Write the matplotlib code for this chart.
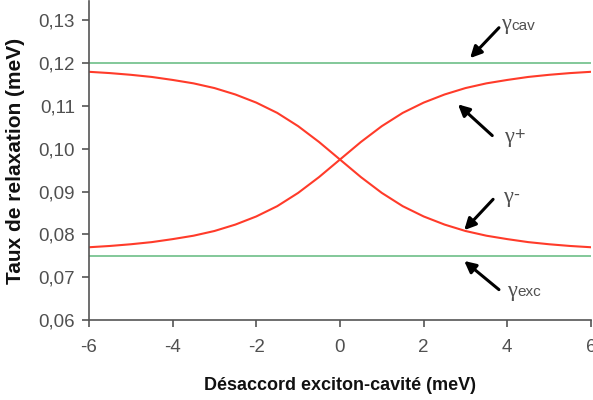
"""
plot.py
Taux de relaxation des polaritons en fonction du désaccord exciton-cavité
"""

import matplotlib
matplotlib.use("Agg")
from matplotlib import pyplot as plt
from matplotlib.ticker import FuncFormatter

# Data
detuning = [-6, -5.5, -5, -4.5, -4, -3.5, -3, -2.5, -2, -1.5, -1, -0.5,
            0, 0.5, 1, 1.5, 2, 2.5, 3, 3.5, 4, 4.5, 5, 5.5, 6]
gamma_plus = [0.0770, 0.0773, 0.0777, 0.0782, 0.0789, 0.0797, 0.0808, 0.0823,
              0.0842, 0.0866, 0.0897, 0.0934, 0.0975, 0.1016, 0.1053, 0.1084,
              0.1108, 0.1127, 0.1142, 0.1153, 0.1161, 0.1168, 0.1173, 0.1177,
              0.1180]
gamma_minus = [0.1180, 0.1177, 0.1173, 0.1168, 0.1161, 0.1153, 0.1142, 0.1127,
               0.1108, 0.1084, 0.1053, 0.1016, 0.0975, 0.0934, 0.0897, 0.0866,
               0.0842, 0.0823, 0.0808, 0.0797, 0.0789, 0.0782, 0.0777, 0.0773,
               0.0770]
gamma_cav = 0.120
gamma_exc = 0.075
x_ticks = [-6, -4, -2, 0, 2, 4, 6]
y_ticks = [0.06, 0.07, 0.08, 0.09, 0.10, 0.11, 0.12, 0.13]

# Style
RED = "#ff3b2a"
GREEN = "#6dbf88"
AXIS_GRAY = "#555555"
TICK_GRAY = "#505050"
SANS = "Liberation Sans"
SERIF = "Liberation Serif"

fig = plt.figure(figsize=(5.93, 4.0), dpi=100)
ax = fig.add_axes([0.150, 0.200, 0.8466, 0.797])

ax.axhline(gamma_cav, color=GREEN, linewidth=1.2)
ax.axhline(gamma_exc, color=GREEN, linewidth=1.2)
ax.plot(detuning, gamma_plus, color=RED, linewidth=1.5)
ax.plot(detuning, gamma_minus, color=RED, linewidth=1.5)

ax.set_xlim(-6, 6)
ax.set_ylim(0.06, 0.1345)
ax.set_xticks(x_ticks)
ax.set_yticks(y_ticks)
ax.xaxis.set_major_formatter(FuncFormatter(lambda v, p: "%d" % v))
ax.yaxis.set_major_formatter(FuncFormatter(lambda v, p: ("%.2f" % v).replace(".", ",")))

for side in ["top", "right"]:
    ax.spines[side].set_visible(False)
for side in ["left", "bottom"]:
    ax.spines[side].set_color(AXIS_GRAY)
    ax.spines[side].set_linewidth(1.2)
ax.tick_params(direction="out", length=5, width=1.2, color=AXIS_GRAY,
               labelcolor=TICK_GRAY, labelsize=13.5)
ax.tick_params(axis="x", pad=9)
ax.tick_params(axis="y", pad=5)
for lab in ax.get_xticklabels() + ax.get_yticklabels():
    lab.set_fontfamily(SANS)

ax.set_xlabel("Désaccord exciton-cavité (meV)", fontfamily=SANS, fontsize=13,
              fontweight="bold", labelpad=15, color="#111111")
ax.set_ylabel("Taux de relaxation (meV)", fontfamily=SANS, fontsize=15,
              fontweight="bold", labelpad=10, color="#111111")


def label(ax, xy_text, xy_head, xy_tail, sub, sub_size, sub_low):
    """ Arrow plus gamma label with sans-serif suffix """
    ax.annotate("", xy=xy_head, xytext=xy_tail,
                arrowprops=dict(arrowstyle="-|>", color="black", lw=2.2,
                                mutation_scale=17, shrinkA=0, shrinkB=0))
    t = ax.text(xy_text[0], xy_text[1], "γ", fontfamily=SERIF, fontsize=16,
                color=TICK_GRAY, va="center", ha="left")
    if sub_low:
        # suffix sits down at the foot of the gamma
        ax.annotate(sub, xy=(1, 0.08), xycoords=t, fontfamily=SANS,
                    fontsize=sub_size, color=TICK_GRAY, va="bottom", ha="left")
    else:
        ax.annotate(sub, xy=(1, 0.62), xycoords=t, fontfamily=SANS,
                    fontsize=sub_size, color=TICK_GRAY, va="center", ha="left")


label(ax, (3.86, 0.1290), (3.11, 0.1212), (3.80, 0.1283), "cav", 11, True)
label(ax, (3.92, 0.1026), (2.82, 0.1104), (3.64, 0.1031), "+", 13, False)
label(ax, (3.90, 0.0887), (2.97, 0.0810), (3.66, 0.0882), "-", 13, False)
label(ax, (4.00, 0.0667), (2.97, 0.0738), (3.80, 0.0671), "exc", 11, True)

fig.savefig("out.png", dpi=100)
